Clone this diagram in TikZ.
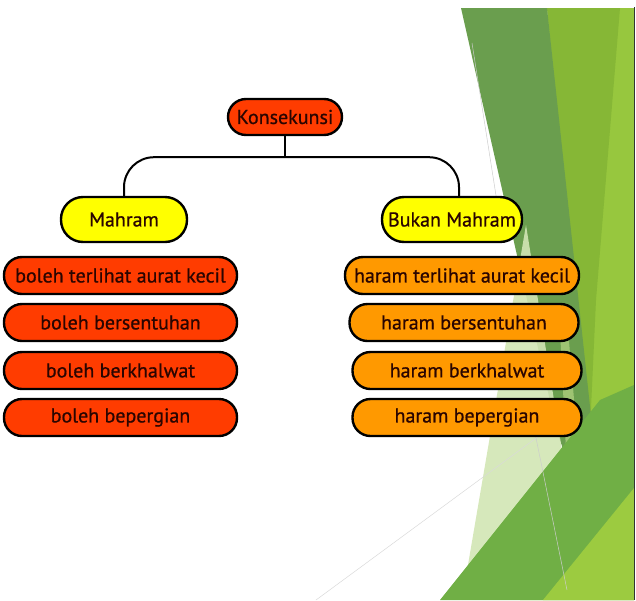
\documentclass[tikz,border=0pt]{standalone}
\usepackage{fontspec}
\setmainfont{PT Sans}
\newfontfamily\isi{PT Sans}[FakeBold=0.7]
\definecolor{merah}{HTML}{FF3C00}
\definecolor{oranye}{HTML}{FF9900}
\definecolor{kuning}{HTML}{FFFF00}
\definecolor{teks}{HTML}{2A0500}
\definecolor{hijautua}{HTML}{6A9E4E}
\definecolor{hijau}{HTML}{86B736}
\definecolor{hijaumuda}{HTML}{97C73E}
\definecolor{hijaubawah}{HTML}{70AF45}
\definecolor{pucat}{HTML}{D2E6B4}
\definecolor{limau}{HTML}{9CCB40}
\begin{document}
\begin{tikzpicture}[x=1pt,y=-1pt,
    kotak/.style={draw=black,line width=2.4pt,inner sep=0pt,text=teks,
      font=\isi\fontsize{20}{23}\selectfont},
    judul/.style={kotak,fill=merah,minimum width=114,minimum height=36,rounded corners=18},
    kepala/.style={kotak,fill=kuning,minimum height=45,rounded corners=22},
    boleh/.style={kotak,fill=merah,minimum width=233,minimum height=37,rounded corners=18},
    haram/.style={kotak,fill=oranye,minimum width=229,minimum height=37,rounded corners=18},
    garis/.style={line width=2pt,rounded corners=30}]
    \useasboundingbox (0,0) rectangle (636,600);
    % latar hijau di kanan
    \fill[hijaumuda] (547,8) -- (634,8) -- (634,600) -- (520,600) -- (580,430) -- cycle;
    \fill[hijau] (547,8) -- (620,8) -- (596,300) -- (590,430) -- cycle;
    \fill[hijautua] (461,8) -- (547,8) -- (592,425) -- (574,480) -- (557,432) -- cycle;
    \fill[pucat, opacity=0.9] (526,225) -- (562,450) -- (462,600) -- cycle;
    \fill[hijaumuda!60!white, opacity=0.6] (560,330) -- (568,330) -- (578,445) -- (566,450) -- cycle;
    \fill[hijaubawah] (440,600) -- (600,400) -- (634,385) -- (634,600) -- cycle;
    \fill[limau] (543,600) -- (634,488) -- (634,600) -- cycle;
    \draw[black!20, line width=0.5pt] (472,43) -- (503,240);
    \draw[black!20, line width=0.5pt] (535,433) -- (567,590);
    \draw[black!15, line width=0.5pt] (316,600) -- (543,433);
    \draw[black!80, line width=0.8pt] (634,7) -- (634,600);

    \node[judul] (konsekunsi) at (285,117) {Konsekunsi};
    \node[kepala, minimum width=126] (mahram) at (124,219.5) {Mahram};
    \node[kepala, minimum width=140] (bukan) at (452,219.5) {Bukan Mahram};

    \node[boleh] (b1) at (120.5,275.5) {boleh terlihat aurat kecil};
    \node[boleh] (b2) at (120.5,322.5) {boleh bersentuhan};
    \node[boleh] (b3) at (120.5,370.5) {boleh berkhalwat};
    \node[boleh] (b4) at (120.5,417.5) {boleh bepergian};

    \node[haram, minimum width=234] (h1) at (462,275.5) {haram terlihat aurat kecil};
    \node[haram] (h2) at (464,322.5) {haram bersentuhan};
    \node[haram] (h3) at (467,370.5) {haram berkhalwat};
    \node[haram] (h4) at (467,417.5) {haram bepergian};

    \draw[line width=2pt] (konsekunsi.south) -- ++(0,21) coordinate (cabang);
    \draw[garis] (mahram.north) |- (cabang) -| ([xshift=7]bukan.north);
\end{tikzpicture}
\end{document}
